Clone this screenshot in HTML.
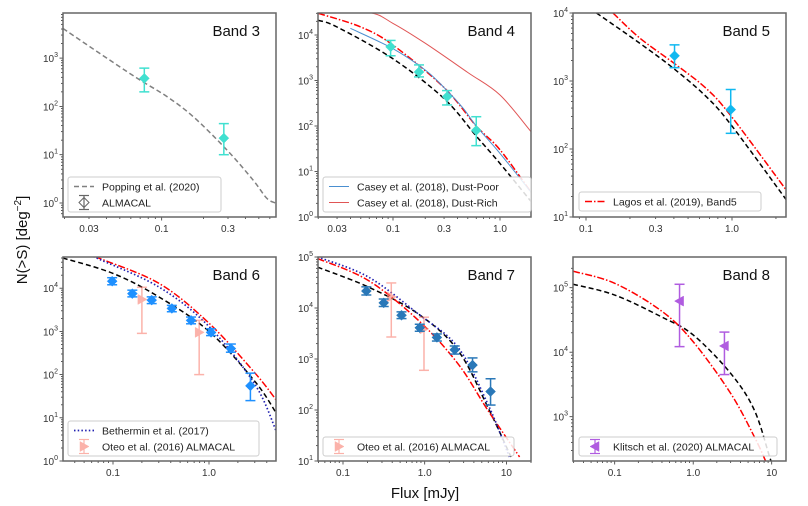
<!DOCTYPE html>
<html><head><meta charset="utf-8"><style>
html,body{margin:0;padding:0;background:#fff;}
svg{display:block;font-family:"Liberation Sans","DejaVu Sans",sans-serif;}
</style></head><body>
<svg id="fig" width="808" height="506" viewBox="0 0 808 506" xmlns="http://www.w3.org/2000/svg">
<text x="27" y="240" font-size="15" fill="#111" text-anchor="middle" transform="rotate(-90 27 240)">N(&gt;S) [deg<tspan dy="-6" font-size="10">−2</tspan><tspan dy="6">]</tspan></text>
<text x="425" y="498" font-size="15" fill="#111" text-anchor="middle">Flux [mJy]</text>
</svg>
<script>
// ---------- Band 3 ----------
const b3PoppingFlux=[0.0195,0.0425,0.070,0.109,0.169,0.294,0.454,0.569,0.66];
const b3PoppingN=[4100,900,350,160,61,12.6,3.0,1.26,1.0];
const b3Flux=[0.075,0.28];const b3N=[380,22];const b3Lo=[200,10];const b3Hi=[620,44];
const b3XTicks=[0.03,0.1,0.3];const b3XLabels=["0.03","0.1","0.3"];const b3YExp=[0,1,2,3];
// ---------- Band 4 ----------
const b4BlackFlux=[0.02,0.03,0.1,0.3,0.6,1.0,1.95];const b4BlackN=[21000,15000,3000,400,60,15,2.2];
const b4RedFlux=[0.02,0.05,0.1,0.3,0.6,1.0,1.95];const b4RedN=[30000,15000,6000,700,100,30,3.5];
const b4PoorFlux=[0.04,0.1,0.2,0.3,0.45,0.6,1.0,1.95];const b4PoorN=[14000,5000,1700,700,250,100,25,3.5];
const b4RichFlux=[0.02,0.06,0.1,0.2,0.5,1.0,1.95];const b4RichN=[32000,31000,18000,6600,1500,480,75];
const b4Flux=[0.095,0.175,0.32,0.6];const b4N=[5500,1540,440,80];const b4Lo=[3500,1200,290,37];const b4Hi=[7600,2200,600,160];
const b4XTicks=[0.03,0.1,0.3,1.0];const b4XLabels=["0.03","0.1","0.3","1.0"];const b4YExp=[0,1,2,3,4];
// ---------- Band 5 ----------
const b5BlackFlux=[0.118,0.233,0.395,0.66,0.98,2.35];const b5BlackN=[10000,3600,1550,600,230,18];
const b5RedFlux=[0.153,0.233,0.404,0.66,0.98,2.35];const b5RedN=[10000,4300,1800,790,310,25];
const b5Flux=[0.404,0.98];const b5N=[2350,380];const b5Lo=[1570,170];const b5Hi=[3400,750];
const b5XTicks=[0.1,0.3,1.0];const b5XLabels=["0.1","0.3","1.0"];const b5YExp=[1,2,3,4];
// ---------- Band 6 ----------
const b6BlackFlux=[0.03,0.1,0.3,1.0,3,5];const b6BlackN=[50000,22000,6300,1000,70,13];
const b6RedFlux=[0.05,0.068,0.3,1.0,3,5];const b6RedN=[75000,52000,13000,1550,110,26];
const b6DotFlux=[0.05,0.065,0.3,1.0,3,5];const b6DotN=[75000,52000,10700,1300,60,5];
const b6Flux=[0.098,0.159,0.253,0.41,0.65,1.05,1.69,2.7];
const b6N=[14500,7500,5300,3400,1800,950,400,55];
const b6Lo=[12000,6300,4400,2850,1500,800,330,25];
const b6Hi=[17500,9000,6300,4000,2150,1150,510,108];
const b6OteoFlux=[0.2,0.79];const b6OteoN=[5500,950];const b6OteoLo=[900,100];const b6OteoHi=[10500,1800];
const b6XTicks=[0.1,1.0];const b6XLabels=["0.1","1.0"];const b6YExp=[0,1,2,3,4];
// ---------- Band 7 ----------
const b7BlackFlux=[0.049,0.202,0.83,2.55,5.9,11.4];const b7BlackN=[63000,26000,7700,1480,115,12];
const b7RedFlux=[0.049,0.202,0.83,2.55,5.9,14.5];const b7RedN=[93000,35000,5800,810,100,12];
const b7DotFlux=[0.049,0.202,0.83,2.55,5.9,10.9];const b7DotN=[100000,41000,7700,1700,133,12];
const b7Flux=[0.193,0.315,0.52,0.87,1.41,2.33,3.85,6.4];
const b7N=[21500,12600,7200,4100,2650,1520,760,230];
const b7Lo=[18000,10700,6200,3500,2250,1250,560,125];
const b7Hi=[26000,15000,8400,4800,3100,1800,1050,410];
const b7OteoFlux=[0.39,0.98];const b7OteoN=[16500,3900];const b7OteoLo=[2700,600];const b7OteoHi=[31000,6600];
const b7XTicks=[0.1,1.0,10];const b7XLabels=["0.1","1.0","10"];const b7YExp=[1,2,3,4,5];
// ---------- Band 8 ----------
const b8BlackFlux=[0.0295,0.1,0.4,1.0,3,6,9.5,12];const b8BlackN=[113000,77000,35000,18500,4700,1270,230,100];
const b8RedFlux=[0.0295,0.1,0.4,1.0,3,6,8.3,10];const b8RedN=[180000,117000,43000,14500,2300,490,210,120];
const b8Flux=[0.67,2.5];const b8N=[62000,12500];const b8Lo=[12200,4500];const b8Hi=[113000,20500];
const b8XTicks=[0.1,1.0,10];const b8XLabels=["0.1","1.0","10"];const b8YExp=[3,4,5];

const NS="http://www.w3.org/2000/svg";
const svg=document.getElementById('fig');
function mk(tag,attrs,parent){const e=document.createElementNS(NS,tag);for(const k in attrs)e.setAttribute(k,attrs[k]);(parent||svg).appendChild(e);return e;}
const L=Math.log10;

function panel(id,box,xs,ys,title){
  const [x0,y0,x1,y1]=box;
  const g=mk('g',{});
  
  
  const sx=v=>xs.px+(L(v)-xs.ref)*xs.ppd;
  const sy=v=>ys.px-(L(v)-ys.ref)*ys.ppd;
  const cp=mk('clipPath',{id:'clip-'+id},g);mk('rect',{x:x0,y:y0,width:x1-x0,height:y1-y0},cp);
  const plot=mk('g',{'clip-path':'url(#clip-'+id+')'},g);
  const lxmin=xs.ref+(x0-xs.px)/xs.ppd, lxmax=xs.ref+(x1-xs.px)/xs.ppd;
  const lymin=ys.ref-(y1-ys.px)/ys.ppd, lymax=ys.ref+(ys.px-y0)/ys.ppd;
  for(let d=Math.floor(lxmin);d<=Math.ceil(lxmax);d++){for(let m=1;m<=9;m++){const lv=d+L(m);if(lv<lxmin-1e-6||lv>lxmax+1e-6)continue;const p=xs.px+(lv-xs.ref)*xs.ppd;mk('line',{x1:p,x2:p,y1:y1,y2:y1+(m==1?3.5:2),stroke:'#333','stroke-width':0.8},g);}}
  for(let d=Math.floor(lymin);d<=Math.ceil(lymax);d++){for(let m=1;m<=9;m++){const lv=d+L(m);if(lv<lymin-1e-6||lv>lymax+1e-6)continue;const p=ys.px-(lv-ys.ref)*ys.ppd;mk('line',{x1:x0,x2:x0-(m==1?3.5:2),y1:p,y2:p,stroke:'#333','stroke-width':0.8},g);}}
  xs.ticks.forEach((t,i)=>{const tx=mk('text',{x:sx(t),y:y1+15,'font-size':10,fill:'#333','text-anchor':'middle'},g);tx.textContent=xs.labels[i];
    
    });
  ys.exps.forEach(e=>{const tx=mk('text',{x:x0-5,y:sy(Math.pow(10,e))+4,'font-size':10,fill:'#333','text-anchor':'end'},g);tx.textContent='10';const ts=mk('tspan',{dy:-5,'font-size':7},tx);ts.textContent=String(e);
    
    });
  const t=mk('text',{x:x1-16,y:y0+23,'font-size':15,fill:'#111','text-anchor':'end'},g);t.textContent=title;
  
  
  return {g,plot,sx,sy,box};
}
function curve(P,fx,fy,style,name){
  const pts=fx.map((v,i)=>[P.sx(v),P.sy(fy[i])]);
  let d='M'+pts[0][0]+','+pts[0][1];
  for(let i=0;i<pts.length-1;i++){const p0=pts[Math.max(0,i-1)],p1=pts[i],p2=pts[i+1],p3=pts[Math.min(pts.length-1,i+2)];
    const c1=[p1[0]+(p2[0]-p0[0])/6,p1[1]+(p2[1]-p0[1])/6],c2=[p2[0]-(p3[0]-p1[0])/6,p2[1]-(p3[1]-p1[1])/6];
    d+=' C'+c1.join(',')+' '+c2.join(',')+' '+p2.join(',');}
  const e=mk('path',Object.assign({d:d,fill:'none'},style),P.plot);
  
  
}
function marker(parent,x,y,shape,color,open){
  const s=5;let pts;
  if(shape=='D')pts=[[x,y-s],[x+s,y],[x,y+s],[x-s,y]];
  else if(shape=='>')pts=[[x-4,y-5],[x+5,y],[x-4,y+5]];
  else pts=[[x+4,y-5],[x-5,y],[x+4,y+5]];
  return mk('polygon',{points:pts.map(p=>p.join(',')).join(' '),fill:open?'none':color,stroke:color,'stroke-width':open?1:0.5},parent);
}
function points(P,fx,fn,lo,hi,color,shape,opacity,name){
  fx.forEach((v,i)=>{const x=P.sx(v),y=P.sy(fn[i]),ya=P.sy(hi[i]),yb=P.sy(lo[i]);
    const g=mk('g',{opacity:opacity},P.g);
    
    
    mk('line',{x1:x,x2:x,y1:ya,y2:yb,stroke:color,'stroke-width':1.5},g);
    mk('line',{x1:x-5,x2:x+5,y1:ya,y2:ya,stroke:color,'stroke-width':1.5},g);
    mk('line',{x1:x-5,x2:x+5,y1:yb,y2:yb,stroke:color,'stroke-width':1.5},g);
    marker(g,x,y,shape,color,false);});
}
function frame(P){const [x0,y0,x1,y1]=P.box;const r=mk('rect',{x:x0,y:y0,width:x1-x0,height:y1-y0,fill:'none',stroke:'#666','stroke-width':1.5},P.g);
  
  }
function legend(P,x,y,w,entries,name){
  const g=mk('g',{},P.g);
  
  
  mk('rect',{x:x,y:y,width:w,height:entries.length*16+3,rx:2.5,fill:'#fff','fill-opacity':0.85,stroke:'#ccc','stroke-width':1},g);
  entries.forEach((en,i)=>{const cy=y+9.5+i*16;
    if(en.type=='line')mk('line',Object.assign({x1:x+6,x2:x+26,y1:cy,y2:cy},en.style),g);
    else{const eg=mk('g',{opacity:en.opacity||1},g);mk('line',{x1:x+16,x2:x+16,y1:cy-7,y2:cy+7,stroke:en.color,'stroke-width':1.2},eg);
      mk('line',{x1:x+11,x2:x+21,y1:cy-7,y2:cy-7,stroke:en.color,'stroke-width':1.2},eg);mk('line',{x1:x+11,x2:x+21,y1:cy+7,y2:cy+7,stroke:en.color,'stroke-width':1.2},eg);
      marker(eg,x+16,cy,en.shape,en.color,en.open);}
    const t=mk('text',{x:x+34,y:cy+3.8,'font-size':10.5,fill:'#222'},g);t.textContent=en.label;});
}
const BLK={stroke:'#000','stroke-width':1.5,'stroke-dasharray':'5,3'};
const RED={stroke:'#f00','stroke-width':1.5,'stroke-dasharray':'7,2,1.5,2'};
const DOT={stroke:'#2020b0','stroke-width':1.7,'stroke-dasharray':'1.5,2.2'};

// Band 3
let P=panel('band3',[63,13,276,217],{px:89,ref:L(0.03),ppd:139,ticks:b3XTicks,labels:b3XLabels},{px:203,ref:0,ppd:48.3,exps:b3YExp},'Band 3');
curve(P,b3PoppingFlux,b3PoppingN,{stroke:'#808080','stroke-width':1.5,'stroke-dasharray':'5,3'},'popping-2020-curve');
points(P,b3Flux,b3N,b3Lo,b3Hi,'#40e0d0','D',1,'almacal-band3-point');
frame(P);
legend(P,68,177,153,[{type:'line',style:{stroke:'#808080','stroke-width':1.5,'stroke-dasharray':'5,3'},label:'Popping et al. (2020)'},{type:'err',color:'#666',shape:'D',open:true,label:'ALMACAL'}],'band3-legend');
// Band 4
P=panel('band4',[318,13,531,217],{px:393,ref:-1,ppd:107,ticks:b4XTicks,labels:b4XLabels},{px:217,ref:0,ppd:45.5,exps:b4YExp},'Band 4');
curve(P,b4RichFlux,b4RichN,{stroke:'#e05555','stroke-width':1},'casey-dust-rich-curve');
curve(P,b4BlackFlux,b4BlackN,BLK,'model-black-dashed');
curve(P,b4RedFlux,b4RedN,RED,'model-red-dashdot');
curve(P,b4PoorFlux,b4PoorN,{stroke:'#4a8fd0','stroke-width':1},'casey-dust-poor-curve');
points(P,b4Flux,b4N,b4Lo,b4Hi,'#40e0d0','D',1,'almacal-band4-point');
frame(P);
legend(P,323,177,208,[{type:'line',style:{stroke:'#4a8fd0','stroke-width':1},label:'Casey et al. (2018), Dust-Poor'},{type:'line',style:{stroke:'#e05555','stroke-width':1},label:'Casey et al. (2018), Dust-Rich'}],'band4-legend');
// Band 5
P=panel('band5',[573,13,786,217],{px:586,ref:-1,ppd:146,ticks:b5XTicks,labels:b5XLabels},{px:217,ref:1,ppd:68,exps:b5YExp},'Band 5');
curve(P,b5BlackFlux,b5BlackN,BLK,'model-black-dashed');
curve(P,b5RedFlux,b5RedN,RED,'lagos-2019-curve');
points(P,b5Flux,b5N,b5Lo,b5Hi,'#10b8f0','D',1,'almacal-band5-point');
frame(P);
legend(P,579,192,182,[{type:'line',style:RED,label:'Lagos et al. (2019), Band5'}],'band5-legend');
// Band 6
P=panel('band6',[63,257,276,461],{px:113,ref:-1,ppd:96,ticks:b6XTicks,labels:b6XLabels},{px:461,ref:0,ppd:43.2,exps:b6YExp},'Band 6');
curve(P,b6BlackFlux,b6BlackN,BLK,'model-black-dashed');
curve(P,b6RedFlux,b6RedN,RED,'model-red-dashdot');
curve(P,b6DotFlux,b6DotN,DOT,'bethermin-2017-curve');
points(P,b6OteoFlux,b6OteoN,b6OteoLo,b6OteoHi,'#fa8072','>',0.6,'oteo-band6-point');
points(P,b6Flux,b6N,b6Lo,b6Hi,'#1e90ff','D',1,'almacal-band6-point');
frame(P);
legend(P,68,421,191,[{type:'line',style:DOT,label:'Bethermin et al. (2017)'},{type:'err',color:'#fa8072',shape:'>',opacity:0.6,label:'Oteo et al. (2016) ALMACAL'}],'band6-legend');
// Band 7
P=panel('band7',[318,257,531,461],{px:343,ref:-1,ppd:81.7,ticks:b7XTicks,labels:b7XLabels},{px:461,ref:1,ppd:51,exps:b7YExp},'Band 7');
curve(P,b7BlackFlux,b7BlackN,BLK,'model-black-dashed');
curve(P,b7RedFlux,b7RedN,RED,'model-red-dashdot');
curve(P,b7DotFlux,b7DotN,DOT,'bethermin-curve');
points(P,b7OteoFlux,b7OteoN,b7OteoLo,b7OteoHi,'#fa8072','>',0.6,'oteo-band7-point');
points(P,b7Flux,b7N,b7Lo,b7Hi,'#2a78b8','D',1,'almacal-band7-point');
frame(P);
legend(P,323,437,191,[{type:'err',color:'#fa8072',shape:'>',opacity:0.6,label:'Oteo et al. (2016) ALMACAL'}],'band7-legend');
// Band 8
P=panel('band8',[573,257,786,461],{px:614.7,ref:-1,ppd:78.5,ticks:b8XTicks,labels:b8XLabels},{px:416.7,ref:3,ppd:64.5,exps:b8YExp},'Band 8');
curve(P,b8BlackFlux,b8BlackN,BLK,'model-black-dashed');
curve(P,b8RedFlux,b8RedN,RED,'model-red-dashdot');
points(P,b8Flux,b8N,b8Lo,b8Hi,'#b05ce0','<',1,'klitsch-band8-point');
frame(P);
legend(P,579,437,198,[{type:'err',color:'#b05ce0',shape:'<',label:'Klitsch et al. (2020) ALMACAL'}],'band8-legend');
</script>
</body></html>
